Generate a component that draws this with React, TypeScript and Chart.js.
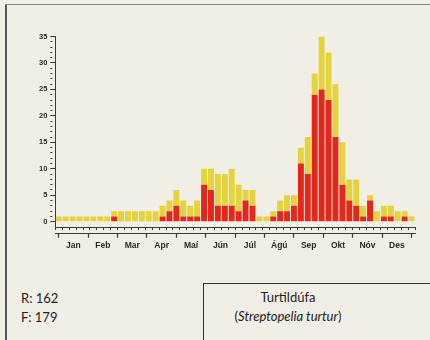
import React, { useEffect, useRef } from "react";
import { Chart, registerables } from "chart.js";

Chart.register(...registerables);

// Weekly categories (52 weeks)
const WEEKS = [
  "1", "2", "3", "4", "5", "6", "7", "8", "9", "10", "11", "12", "13",
  "14", "15", "16", "17", "18", "19", "20", "21", "22", "23", "24", "25", "26",
  "27", "28", "29", "30", "31", "32", "33", "34", "35", "36", "37", "38", "39",
  "40", "41", "42", "43", "44", "45", "46", "47", "48", "49", "50", "51", "52",
];
const MONTHS = ["Jan", "Feb", "Mar", "Apr", "Maí", "Jún", "Júl", "Ágú", "Sep", "Okt", "Nóv", "Des"];

// Red (lower) series per week
const RED = [
  0, 0, 0, 0, 0, 0, 0, 0, 1, 0, 0, 0, 0,
  0, 0, 1, 2, 3, 1, 1, 1, 7, 6, 3, 3, 3,
  2, 4, 3, 0, 0, 1, 2, 2, 3, 11, 9, 24, 25,
  23, 16, 7, 4, 3, 1, 4, 0, 1, 1, 0, 1, 0,
];
// Yellow (upper) series per week
const YELLOW = [
  1, 1, 1, 1, 1, 1, 1, 1, 1, 2, 2, 2, 2,
  2, 2, 2, 2, 3, 3, 2, 3, 3, 4, 6, 6, 7,
  5, 2, 3, 1, 1, 1, 2, 3, 2, 3, 7, 4, 10,
  9, 10, 8, 4, 5, 2, 1, 2, 2, 2, 2, 1, 1,
];

const Y_MAX = 35;
const Y_LABEL_STEP = 5;
const SPECIES = "Turtildúfa";
const LATIN = "Streptopelia turtur";
const R_COUNT = 162;
const F_COUNT = 179;

const RED_COLOR = "#e2281c";
const YELLOW_COLOR = "#e5d33e";
const AXIS_COLOR = "#3a3a3a";
const BG = "#f1eee6";

export default function App() {
  const ref = useRef<HTMLCanvasElement | null>(null);

  useEffect(() => {
    if (!ref.current) return;
    const nWeeks = WEEKS.length;
    const halfCat = (MONTHS.length / nWeeks) / 2;
    const chart = new Chart(ref.current, {
      type: "bar",
      data: {
        labels: WEEKS,
        datasets: [
          {
            label: "F",
            data: RED,
            backgroundColor: RED_COLOR,
            borderWidth: 0,
            barPercentage: 0.86,
            categoryPercentage: 1,
            stack: "s",
            xAxisID: "x",
          },
          {
            label: "R",
            data: YELLOW,
            backgroundColor: YELLOW_COLOR,
            borderWidth: 0,
            barPercentage: 0.86,
            categoryPercentage: 1,
            stack: "s",
            xAxisID: "x",
          },
        ],
      },
      options: {
        animation: false,
        responsive: false,
        maintainAspectRatio: false,
        layout: { padding: { left: 36, right: 15, top: 36.5, bottom: 6 } },
        plugins: { legend: { display: false }, tooltip: { enabled: false } },
        scales: {
          x: {
            type: "category",
            stacked: true,
            offset: true,
            position: "bottom",
            weight: 0,
            border: { display: true, color: AXIS_COLOR, width: 1 },
            grid: {
              offset: true,
              drawOnChartArea: false,
              drawTicks: true,
              tickLength: 6,
              tickColor: AXIS_COLOR,
              tickWidth: 1,
              tickBorderDash: [2, 20],
            },
            ticks: { display: false },
          },
          months: {
            type: "linear",
            axis: "x",
            position: "bottom",
            weight: 1,
            offset: false,
            min: -halfCat,
            max: MONTHS.length + halfCat,
            afterBuildTicks: (scale: any) => {
              const t: any[] = [];
              for (let i = 0; i <= MONTHS.length; i++) {
                t.push({ value: i });
                if (i < MONTHS.length) t.push({ value: i + 0.5 });
              }
              scale.ticks = t;
            },
            border: { display: true, color: AXIS_COLOR, width: 1 },
            grid: {
              offset: false,
              drawOnChartArea: false,
              drawTicks: true,
              tickLength: 4,
              tickWidth: 1.2,
              tickColor: (ctx: any) =>
                ctx.tick && ctx.tick.value % 1 === 0 ? AXIS_COLOR : "rgba(0,0,0,0)",
            },
            ticks: {
              autoSkip: false,
              maxRotation: 0,
              padding: 3,
              color: "#2a2a2a",
              font: { family: "Liberation Sans", size: 8.5, weight: "bold" },
              callback: (v: any) => {
                const n = Number(v);
                return n % 1 !== 0 ? MONTHS[Math.floor(n)] : "";
              },
            },
          },
          y: {
            type: "linear",
            stacked: true,
            min: -1.15,
            max: Y_MAX,
            afterBuildTicks: (scale: any) => {
              const t: any[] = [];
              for (let v = 0; v <= Y_MAX; v++) t.push({ value: v });
              scale.ticks = t;
            },
            border: { display: true, color: AXIS_COLOR, width: 1 },
            grid: {
              drawOnChartArea: false,
              drawTicks: true,
              tickLength: 5,
              tickColor: AXIS_COLOR,
              tickWidth: 1,
              tickBorderDash: (ctx: any) =>
                ctx.tick && ctx.tick.value % Y_LABEL_STEP === 0 ? [] : [2, 20],
            },
            ticks: {
              autoSkip: false,
              padding: 3,
              color: "#2a2a2a",
              font: { family: "Liberation Sans", size: 7.5, weight: "bold" },
              callback: (v: any) => (Number(v) % Y_LABEL_STEP === 0 ? String(v) : ""),
            },
          },
        },
      },
    });
    return () => chart.destroy();
  }, []);

  const textFont = "Lato, 'Open Sans', sans-serif";
  return (
    <div
      style={{
        position: "fixed",
        left: 0,
        top: 0,
        width: 430,
        height: 340,
        background: BG,
        overflow: "hidden",
        fontFamily: textFont,
        color: "#222",
      }}
    >
      <div style={{ position: "absolute", left: 5, top: 4, width: 2, height: 340, background: "#555" }} />
      <div style={{ position: "absolute", left: 5, top: 4, width: 430, height: 1, background: "#888" }} />
      <canvas ref={ref} width={430} height={260} style={{ position: "absolute", left: 0, top: 0 }} />
      <div style={{ position: "absolute", left: 21, top: 289, fontSize: 13, lineHeight: "19px" }}>
        <div>R: {R_COUNT}</div>
        <div>F: {F_COUNT}</div>
      </div>
      <div
        style={{
          position: "absolute",
          left: 203,
          top: 283,
          width: 240,
          height: 80,
          border: "1.5px solid #333",
          boxSizing: "border-box",
        }}
      />
      <div
        style={{
          position: "absolute",
          left: 188,
          width: 200,
          top: 288,
          textAlign: "center",
          fontSize: 13,
          lineHeight: "19px",
        }}
      >
        <div>{SPECIES}</div>
        <div>
          (<i>{LATIN}</i>)
        </div>
      </div>
    </div>
  );
}
